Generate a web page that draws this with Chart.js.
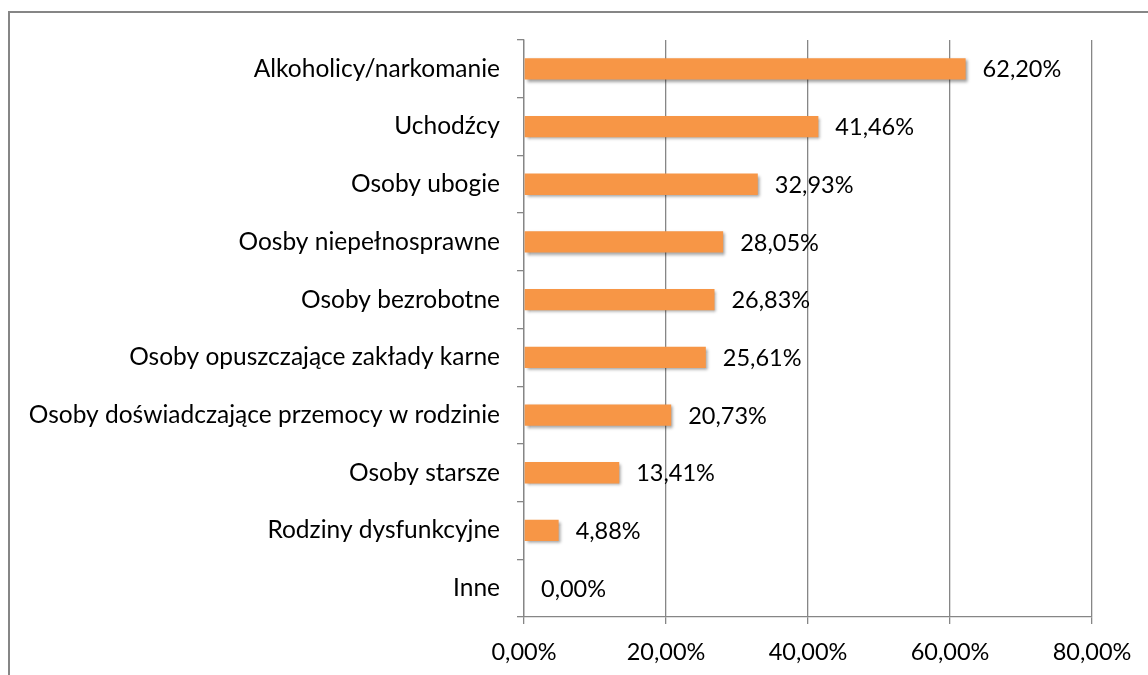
<!DOCTYPE html>
<html>
<head>
<meta charset="utf-8">
<script src="https://cdn.jsdelivr.net/npm/chart.js@4.4.1/dist/chart.umd.min.js"></script>
<style>
html,body{margin:0;padding:0;background:#fff;}
#wrap{width:1148px;height:675px;position:relative;}
</style>
</head>
<body>
<div id="wrap"><canvas id="c" width="1148" height="675"></canvas></div>
<script>
const categories = [
  "Alkoholicy/narkomanie",
  "Uchodźcy",
  "Osoby ubogie",
  "Oosby niepełnosprawne",
  "Osoby bezrobotne",
  "Osoby opuszczające zakłady karne",
  "Osoby doświadczające przemocy w rodzinie",
  "Osoby starsze",
  "Rodziny dysfunkcyjne",
  "Inne"
];
const values = [62.20, 41.46, 32.93, 28.05, 26.83, 25.61, 20.73, 13.41, 4.88, 0.00];
const xTicks = [0, 20, 40, 60, 80];

const FONT = "Lato, 'Open Sans', sans-serif";
const GRAY = "#868686";
const fmt = v => v.toFixed(2).replace(".", ",") + "%";

const framePlugin = {
  id: "frame",
  beforeDraw(chart) {
    const ctx = chart.ctx;
    ctx.save();
    ctx.fillStyle = "#fff";
    ctx.fillRect(0, 0, chart.width, chart.height);
    ctx.strokeStyle = GRAY;
    ctx.lineWidth = 2;
    ctx.strokeRect(9, 12, 1300, 800);
    ctx.restore();
  }
};

const shadowPlugin = {
  id: "shadow",
  beforeDatasetDraw(chart) {
    const ctx = chart.ctx;
    ctx.save();
    ctx.shadowColor = "rgba(0,0,0,0.38)";
    ctx.shadowBlur = 3;
    ctx.shadowOffsetX = 2;
    ctx.shadowOffsetY = 2;
  },
  afterDatasetDraw(chart) {
    chart.ctx.restore();
  }
};

const labelPlugin = {
  id: "vlabels",
  afterDatasetsDraw(chart) {
    const ctx = chart.ctx;
    const meta = chart.getDatasetMeta(0);
    ctx.save();
    ctx.font = "23.5px " + FONT;
    ctx.fillStyle = "#000";
    ctx.textAlign = "left";
    ctx.textBaseline = "middle";
    meta.data.forEach((bar, i) => {
      ctx.fillText(fmt(values[i]), bar.x + 17, bar.y + 1);
    });
    ctx.restore();
  }
};

new Chart(document.getElementById("c"), {
  type: "bar",
  data: {
    labels: categories,
    datasets: [{
      data: values,
      backgroundColor: "#F79646",
      borderWidth: 0,
      barPercentage: 0.37,
      categoryPercentage: 1.0
    }]
  },
  options: {
    indexAxis: "y",
    responsive: false,
    animation: false,
    devicePixelRatio: 1,
    layout: { padding: { top: 40, right: 56, bottom: 0, left: 0 } },
    plugins: { legend: { display: false }, tooltip: { enabled: false } },
    scales: {
      x: {
        min: 0, max: 80,
        afterBuildTicks(scale) { scale.ticks = xTicks.map(v => ({ value: v })); },
        afterFit(scale) { scale.height = 58; },
        grid: { color: GRAY, lineWidth: 1.3, tickLength: 7, tickColor: GRAY, drawTicks: true },
        border: { color: GRAY, width: 1.3 },
        ticks: {
          padding: 14,
          color: "#000",
          font: { family: FONT, size: 23.5 },
          callback: v => fmt(v),
          maxRotation: 0
        }
      },
      y: {
        afterFit(scale) { scale.width = 524; },
        grid: { drawOnChartArea: false, color: GRAY, lineWidth: 1.3, tickLength: 7, tickColor: GRAY },
        border: { color: GRAY, width: 1.3 },
        ticks: {
          padding: 17,
          color: "#000",
          font: { family: FONT, size: 24.5 },
          autoSkip: false
        }
      }
    }
  },
  plugins: [framePlugin, shadowPlugin, labelPlugin]
});
</script>
</body>
</html>
